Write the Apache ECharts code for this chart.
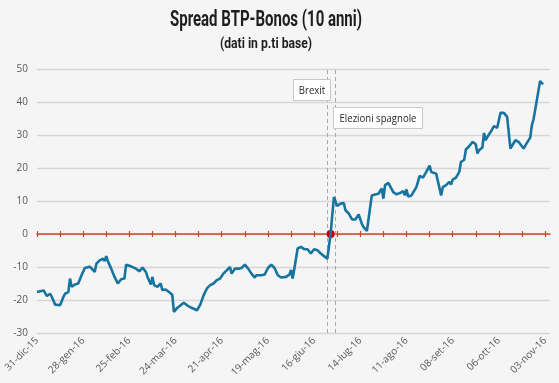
<!DOCTYPE html>
<html><head><meta charset="utf-8">
<script src="https://cdn.jsdelivr.net/npm/echarts@6/dist/echarts.min.js"></script>
<style>html,body{margin:0;padding:0;background:#f5f5f5}#c{width:559px;height:383px}</style>
</head><body><div id="c"></div>
<script>
const tickLabels = ['31-dic-15','28-gen-16','25-feb-16','24-mar-16','21-apr-16','19-mag-16','16-giu-16','14-lug-16','11-ago-16','08-set-16','06-ott-16','03-nov-16'];
// days since 31-dic-15
const days = [0,4,6,8,9,11,12,14,16,17,19,20,21,23,25,27,29,32,33,35,36,38,40,41,42,43,45,47,49,51,53,54,57,60,62,64,66,67,69,70,71,73,75,76,78,80,82,83,85,89,91,93,97,99,101,103,105,106,107,109,111,113,115,117,118,120,122,124,126,128,130,132,133,134,136,138,140,142,144,146,148,151,153,154,155,157,158,160,162,164,166,168,170,172,174,176,178,180,182,184,186,187,189,191,193,195,197,198,200,202,203,205,207,209,210,211,213,214,216,218,220,222,223,224,225,227,228,230,232,234,236,238,239,242,245,246,248,250,251,252,254,256,257,259,260,262,264,266,267,268,270,271,272,273,275,277,279,281,283,285,287,288,290,292,295,297,299,300,301,303,305,306,307];
const spread = [-17.6,-17.1,-18.8,-18.1,-19.1,-21.4,-22.0,-21.6,-19.1,-18.1,-17.6,-13.5,-16.0,-15.3,-15.0,-12.5,-10.3,-9.9,-10.5,-11.5,-9.0,-8.0,-7.5,-8.2,-6.7,-8.3,-10.5,-13.0,-15.0,-13.7,-13.5,-9.3,-9.8,-10.5,-11.3,-10.2,-11.5,-13.0,-15.3,-13.0,-15.5,-16.0,-15.0,-17.0,-16.8,-17.6,-18.4,-23.6,-22.4,-20.8,-21.6,-22.2,-23.1,-21.4,-18.6,-16.5,-15.5,-16.0,-15.0,-14.0,-13.5,-12.0,-11.0,-10.0,-12.0,-10.5,-10.5,-10.3,-9.3,-10.5,-12.0,-13.2,-12.5,-13.0,-12.5,-12.3,-10.3,-9.3,-10.3,-12.5,-13.2,-13.0,-12.3,-10.9,-13.5,-7.5,-4.4,-3.9,-4.6,-4.6,-5.9,-4.6,-4.9,-5.9,-6.7,-7.5,0.0,11.2,8.5,9.2,9.4,7.2,6.2,4.4,4.4,5.9,3.0,2.1,0.9,8.2,11.7,12.0,12.2,13.8,10.7,14.8,15.5,15.3,12.7,12.0,12.4,13.0,11.7,13.5,11.4,11.7,12.2,14.2,17.6,17.1,18.8,20.7,18.8,18.3,11.7,14.2,14.8,15.8,15.0,16.5,17.1,18.8,21.8,22.5,25.6,26.6,27.9,27.2,24.4,25.4,26.2,30.6,28.4,29.4,30.9,32.7,32.2,36.7,36.7,35.5,25.9,25.4,28.4,27.9,25.9,27.6,29.2,32.9,34.7,40.5,46.4,45.6,45.8];
const eventNames = ['Brexit','Elezioni spagnole'];
const eventDays = [176, 181];
// annotation boxes: [left day, top value] -> [right day, bottom value]
const eventBoxFrom = [[155.3, 47.1],[179.5, 38.5]];
const eventBoxTo = [[177.5, 40.8],[233.6, 32.1]];
const crossDay = 178;
const titleText = 'Spread BTP-Bonos (10 anni)';
const subtitleText = '(dati in p.ti base)';
const labelStep = 28, tickStep = 14, axisMax = 311;

const labelVals = tickLabels.map((_, i) => i * labelStep);
const tickVals = [];
for (let i = 0; i <= labelVals[labelVals.length-1]; i += tickStep) tickVals.push(i);

function textWidth(text, font) {
  const ctx = document.createElement('canvas').getContext('2d');
  ctx.font = font;
  return ctx.measureText(text).width || 1;
}
const titleFont = 'bold 22px Roboto, "DejaVu Sans", sans-serif';
const subFont = 'bold 15px Roboto, "DejaVu Sans", sans-serif';
const annFont = '11.5px "Open Sans", sans-serif';

const chart = echarts.init(document.getElementById('c'), null, {renderer:'canvas'});
const font = '"Open Sans", sans-serif';
const red = '#d4442a';
const baseX = {type:'value', min:0, max:axisMax, splitLine:{show:false}};
chart.setOption({
  backgroundColor:'#f5f5f5',
  animation:false,
  grid:{left:37, right:9, top:69, bottom:50, containLabel:false},
  xAxis:[
    Object.assign({}, baseX, {position:'bottom', axisLine:{show:false, onZero:false}, axisTick:{show:false},
      axisLabel:{rotate:45, margin:6, fontSize:10, fontFamily:font, color:'#595959', customValues:labelVals,
        formatter: v => tickLabels[Math.round(v/labelStep)] || ''}}),
    Object.assign({}, baseX, {position:'bottom', axisLine:{show:true, onZero:true, onZeroAxisIndex:0, lineStyle:{color:red, width:1.5}},
      axisTick:{show:true, inside:false, length:3, customValues:tickVals, lineStyle:{color:red, width:1.2}}, axisLabel:{show:false}}),
    Object.assign({}, baseX, {position:'bottom', axisLine:{show:true, onZero:true, onZeroAxisIndex:1, lineStyle:{color:red, width:1.5, opacity:0}},
      axisTick:{show:true, inside:true, length:3, customValues:tickVals, lineStyle:{color:red, width:1.2}}, axisLabel:{show:false}})
  ],
  yAxis:[
    {type:'value', min:-30, max:50, interval:10, axisLine:{show:false}, axisTick:{show:false},
      axisLabel:{margin:9, fontSize:10, fontFamily:font, color:'#595959'},
      splitLine:{lineStyle:{color:'#d6d6d6', width:1.3}}},
    {type:'value', min:-30, max:50, interval:10, axisLine:{show:false}, axisTick:{show:false},
      axisLabel:{show:false}, splitLine:{show:false}}
  ],
  series:[{
    type:'line', xAxisIndex:0, yAxisIndex:0, data: days.map((d,i)=>[d, spread[i]]), showSymbol:false, symbol:'none',
    lineStyle:{color:'#17749f', width:2.6}, z:5,
    markLine:{silent:true, symbol:'none', label:{show:false}, lineStyle:{color:'#a8a8a8', type:[4,3], width:1},
      data: eventDays.map(d=>({xAxis:d}))},
    markPoint:{silent:true, data:[
      {coord:[crossDay, 0], symbol:'circle', symbolSize:8, itemStyle:{color:'#c00000'}, label:{show:false}}
    ]}
  }]
});

const tw = eventNames.map(n => textWidth(n, annFont));
const annScale = 77 / tw[1];
const toPx = c => chart.convertToPixel({xAxisIndex:0, yAxisIndex:0}, c);
const graphics = [
  {type:'text', x:266, y:9, scaleX:192/textWidth(titleText, titleFont), style:{text:titleText, font:titleFont, fill:'#1e1e1e', textAlign:'center', textVerticalAlign:'top'}},
  {type:'text', x:266, y:37, scaleX:92/textWidth(subtitleText, subFont), style:{text:subtitleText, font:subFont, fill:'#1e1e1e', textAlign:'center', textVerticalAlign:'top'}}
];
eventNames.forEach((n, i) => {
  const p0 = toPx(eventBoxFrom[i]), p1 = toPx(eventBoxTo[i]);
  const x = Math.round(p0[0]) + 0.5, y = Math.round(p0[1]) + 0.5;
  const w = Math.round(p1[0] - p0[0]), h = Math.round(p1[1] - p0[1]);
  graphics.push({type:'rect', z:20, shape:{x:x, y:y, width:w, height:h}, style:{fill:'#ffffff', stroke:'#c8c8c8', lineWidth:1}});
  graphics.push({type:'text', z:21, x:x + w/2, y:y + h/2 + 0.5, scaleX:annScale,
    style:{text:n, font:annFont, fill:'#262626', textAlign:'center', textVerticalAlign:'middle'}});
});
chart.setOption({graphic: graphics});
</script></body></html>
